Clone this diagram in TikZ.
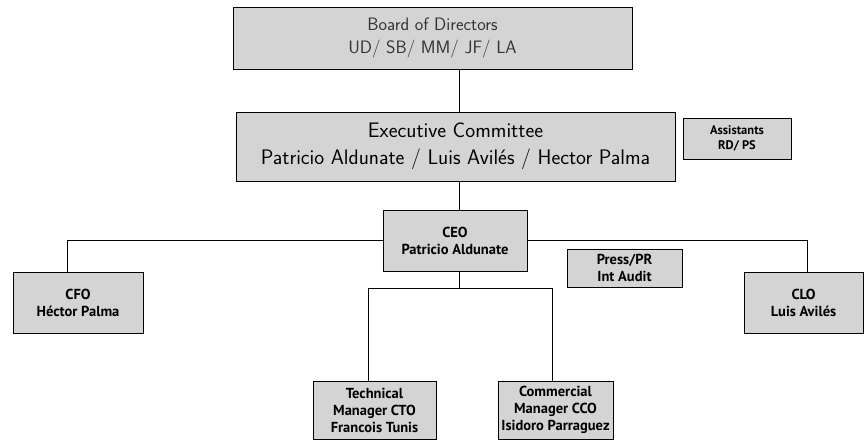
\documentclass[tikz,border=0pt]{standalone}
\usepackage{fontspec}
\newfontfamily\boxfont{PT Sans}
\usepackage{tikz}
\tikzset{
  unit/.style={draw=black, line width=0.9pt, fill=black!17, align=center,
    inner sep=0pt},
  topunit/.style={unit, text=black!80, font={\sffamily\fontsize{18}{23}\selectfont}},
  execunit/.style={unit, font={\sffamily\fontsize{21}{27}\selectfont}},
  staffunit/.style={unit, font={\boxfont\bfseries\fontsize{14.5}{17}\selectfont}},
  smallunit/.style={unit, font={\boxfont\bfseries\fontsize{12.5}{15}\selectfont}}}

\begin{document}
\begin{tikzpicture}[x=1pt,y=-1pt]
\useasboundingbox (0,0) rectangle (864,441);
\tikzstyle{every path}+=[line width=0.9pt]
% top levels
\node [topunit, minimum width=399, minimum height=62] (board) at (432.5,38)
  {Board of Directors\\UD/ SB/ MM/ JF/ LA};
\node [execunit, minimum width=439, minimum height=69] (exec) at (455.5,146.5)
  {Executive Committee\\Patricio Aldunate / Luis Avilés / Hector Palma};
\node [smallunit, minimum width=108, minimum height=41] (assist) at (737,138.5)
  {Assistants\\RD/ PS};
\node [staffunit, minimum width=144, minimum height=61] (ceo) at (455,240.5)
  {CEO\\Patricio Aldunate};
% second row
\node [staffunit, minimum width=130, minimum height=61] (cfo) at (78,302.5)
  {CFO\\Héctor Palma};
\node [staffunit, minimum width=119, minimum height=61] (clo) at (803.5,302.5)
  {CLO\\Luis Avilés};
\node [staffunit, minimum width=115, minimum height=38] (press) at (624.5,268)
  {Press/PR\\Int Audit};
\node [staffunit, minimum width=123, minimum height=58] (cto) at (374.5,410)
  {Technical\\Manager CTO\\Francois Tunis};
\node [staffunit, minimum width=115, minimum height=58] (cco) at (555.5,410)
  {Commercial\\Manager CCO\\Isidoro Parraguez};
% lines
\coordinate (trunk) at (459,0);
\coordinate (bar) at (459,288);
\draw (board.south -| trunk) -- (exec.north -| trunk);
\draw (exec.south -| trunk) -- (ceo.north -| trunk);
\draw (ceo.west) -| ([xshift=-11pt]cfo.north);
\draw (ceo.east) -| ([xshift=3.5pt]clo.north);
\draw (ceo.south -| trunk) -- (bar);
\draw (bar) -| ([xshift=-6.5pt]cto.north);
\draw (bar) -| ([xshift=-3.5pt]cco.north);
\end{tikzpicture}
\end{document}
